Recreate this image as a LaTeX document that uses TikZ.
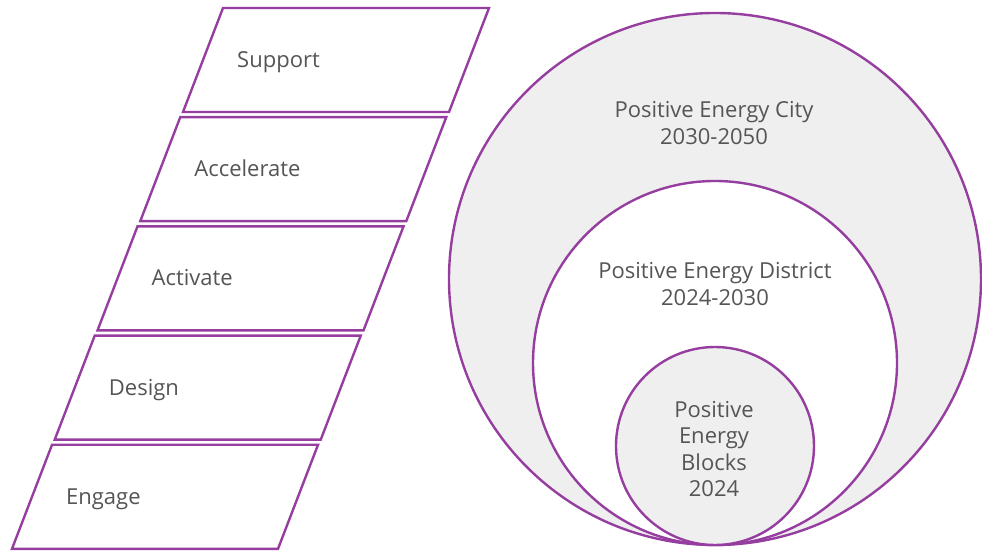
\documentclass[tikz,border=0pt]{standalone}
\usepackage{fontspec}
\setmainfont{Open Sans}
\usepackage{tikz}
\usetikzlibrary{                          % TikZ libraries
                shapes,                   % .
                calc}
\usepackage{xcolor}
\definecolor{pedpurple}{RGB}{150,62,160}
\definecolor{pedgray}{RGB}{239,239,239}
\definecolor{pedtext}{RGB}{85,85,85}

\begin{document}
\begin{tikzpicture}[x=1pt,y=1pt
                    ]
                % define styles
\tikzset{stage-box/.style={draw=pedpurple,
                       line width=2.4pt,
                       line join=miter,
                       fill=white,
                       },
         stage-text/.style={anchor=base west,
                       text=pedtext,
                       font=\fontsize{22}{26.5}\selectfont,
                       inner sep=0,
                       },
         ring/.style={circle,
                       draw=pedpurple,
                       line width=2.4pt,
                       inner sep=0,
                       },
         ring-text/.style={align=center,
                       text=pedtext,
                       font=\fontsize{22}{26.5}\selectfont,
                       inner sep=0,
                       }
}

% fix the page
\useasboundingbox (0,0) rectangle (982,554);

% stacked stages, bottom one left most
\foreach \name/\idx in {Support/0, Accelerate/1, Activate/2, Design/3, Engage/4}
{
    \coordinate (tl\idx) at ({223-42.75*\idx}, {546-109.2*\idx});
    \draw[stage-box] (tl\idx) -- ++(266,0) -- ++(-40,-104) -- ++(-266,0) -- cycle;
    \node[stage-text] (st\idx) at ($(tl\idx)+(14,-59.5)$) {\name};
}

% circles
\node[ring,fill=pedgray,minimum size=532pt] (city)     at (715,275) {};
\node[ring,fill=white,  minimum size=364pt] (district) at (715,191) {};
\node[ring,fill=pedgray,minimum size=198pt] (blocks)   at (715,108) {};

% labels
\node[ring-text] (city-lbl)     at (714,431) {Positive Energy City\\2030-2050};
\node[ring-text] (district-lbl) at (715,270) {Positive Energy District\\2024-2030};
\node[ring-text] (blocks-lbl)   at (714,105) {Positive\\Energy\\Blocks\\2024};

\end{tikzpicture}
\end{document}
